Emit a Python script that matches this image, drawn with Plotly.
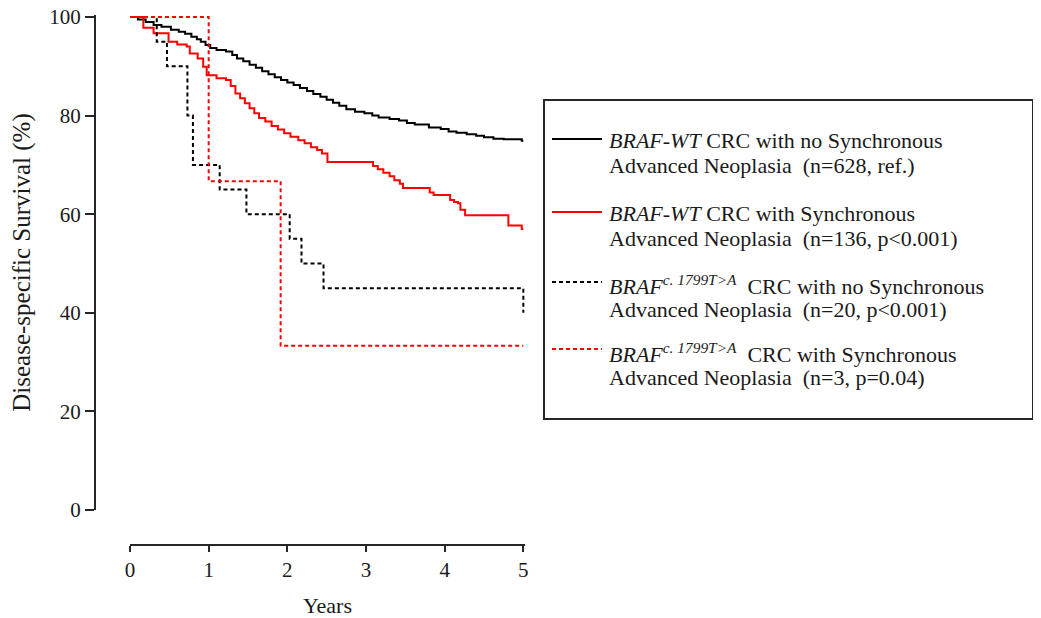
import plotly.graph_objects as go

# ---------------- data ----------------
year_ticks = [0, 1, 2, 3, 4, 5]
surv_ticks = [0, 20, 40, 60, 80, 100]

# BRAF-WT, no synchronous advanced neoplasia (n=628)
wt_no_t = [0, 0.10, 0.20, 0.30, 0.40, 0.52, 0.62, 0.70, 0.78, 0.85, 0.90, 0.96,
           1.02, 1.10, 1.22, 1.30, 1.36, 1.44, 1.52, 1.60, 1.68, 1.76, 1.84, 1.92,
           2.00, 2.08, 2.16, 2.25, 2.33, 2.42, 2.50, 2.58, 2.66, 2.75, 2.86, 2.98,
           3.08, 3.16, 3.30, 3.42, 3.52, 3.62, 3.80, 3.95, 4.05, 4.15, 4.28, 4.40,
           4.50, 4.62, 4.75, 4.98, 5.00]
wt_no_s = [100, 99.5, 99.0, 98.4, 98.0, 97.4, 97.0, 96.6, 96.0, 95.5, 95.0, 94.3,
           93.7, 93.3, 93.0, 92.3, 91.6, 91.0, 90.3, 89.7, 89.0, 88.4, 87.8, 87.2,
           86.7, 86.2, 85.6, 85.0, 84.4, 83.8, 83.2, 82.6, 82.0, 81.3, 80.8, 80.5,
           80.0, 79.6, 79.3, 79.0, 78.5, 78.2, 77.6, 77.3, 76.8, 76.5, 76.2, 75.9,
           75.6, 75.3, 75.2, 74.9, 74.9]

# BRAF-WT, with synchronous advanced neoplasia (n=136)
wt_syn_t = [0, 0.17, 0.30, 0.49, 0.60, 0.72, 0.76, 0.86, 0.93, 0.975, 1.10, 1.22,
            1.28, 1.34, 1.40, 1.46, 1.52, 1.58, 1.64, 1.72, 1.80, 1.88, 1.96, 2.04,
            2.14, 2.22, 2.30, 2.38, 2.44, 2.51, 3.09, 3.15, 3.22, 3.30, 3.36, 3.43,
            3.47, 3.81, 3.86, 4.07, 4.12, 4.17, 4.20, 4.26, 4.81, 4.98, 5.00]
wt_syn_s = [100, 97.8, 96.7, 95.0, 94.4, 94.0, 92.6, 91.6, 89.9, 88.2, 87.6, 87.2,
            86.0, 84.5, 83.5, 82.5, 81.5, 80.5, 79.5, 78.8, 77.9, 77.2, 76.4, 75.7,
            75.0, 74.4, 73.6, 73.0, 72.3, 70.6, 69.8, 69.1, 68.4, 67.7, 66.9, 66.2,
            65.3, 64.4, 63.9, 62.9, 62.5, 62.2, 60.9, 59.8, 57.7, 57.0, 57.0]

# BRAF c.1799T>A, no synchronous advanced neoplasia (n=20)
mut_no_t = [0, 0.34, 0.47, 0.73, 0.80, 1.14, 1.48, 2.03, 2.18, 2.46, 5.00]
mut_no_s = [100, 95, 90, 80, 70, 65, 60, 55, 50, 45, 40]

# BRAF c.1799T>A, with synchronous advanced neoplasia (n=3)
mut_syn_t = [0, 1.00, 1.915, 5.00]
mut_syn_s = [100, 66.7, 33.3, 33.3]

SUP = "<sup><i>c. 1799T&gt;A</i></sup>"
legend_line1 = [
    "<i>BRAF-WT</i> CRC with no Synchronous",
    "<i>BRAF-WT</i> CRC with Synchronous",
    "<i>BRAF</i>" + SUP + "\u00a0 CRC with no Synchronous",
    "<i>BRAF</i>" + SUP + "\u00a0 CRC with Synchronous",
]
legend_line2 = [
    "Advanced Neoplasia\u00a0 (n=628, ref.)",
    "Advanced Neoplasia\u00a0 (n=136, p&lt;0.001)",
    "Advanced Neoplasia\u00a0 (n=20, p&lt;0.001)",
    "Advanced Neoplasia\u00a0 (n=3, p=0.04)",
]

# ---------------- figure ----------------
OFF = 8                      # page body margin of the html page
FW, FH = 1041 - OFF, 618 - OFF
ML, MR, MT, MB = 80, 2, 2, 40
PW, PH = FW - ML - MR, FH - MT - MB
FONT = "Liberation Serif"


def px_x(px):
    return (px - OFF - ML) / PW


def px_y(py):
    return (FH - MB - (py - OFF)) / PH


series = [
    (wt_no_t, wt_no_s, "#000000", "solid"),
    (wt_syn_t, wt_syn_s, "#ff0000", "solid"),
    (mut_no_t, mut_no_s, "#000000", "4px,3px"),
    (mut_syn_t, mut_syn_s, "#ff0000", "4px,3px"),
]

fig = go.Figure()
for t, s, col, dash in series:
    fig.add_trace(go.Scatter(
        x=t, y=s, mode="lines",
        line=dict(color=col, width=2, dash=dash, shape="hv"),
        showlegend=False, hoverinfo="skip",
    ))

axis_common = dict(
    showline=True, linecolor="#262626", linewidth=2,
    ticks="outside", tickwidth=2, tickcolor="#262626",
    showgrid=False, zeroline=False, automargin=False,
    ticklabeloverflow="allow",
    tickfont=dict(family=FONT, size=21, color="#1a1a1a"),
)

fig.update_layout(
    width=FW, height=FH,
    margin=dict(l=ML, r=MR, t=MT, b=MB),
    paper_bgcolor="white", plot_bgcolor="white",
    font=dict(family=FONT, size=21, color="#1a1a1a"),
    xaxis=dict(
        **axis_common,
        domain=[px_x(130), px_x(524.9)],
        range=[0, 5.02],
        anchor="free", position=px_y(545),
        tickvals=year_ticks, ticktext=[str(v) for v in year_ticks],
        ticklen=6,
        title=dict(text="Years", font=dict(family=FONT, size=22), standoff=15),
    ),
    yaxis=dict(
        **axis_common,
        domain=[px_y(510), px_y(15.03)],
        range=[0, 100.4],
        anchor="free", position=px_x(95),
        tickvals=surv_ticks, ticktext=[str(v) for v in surv_ticks],
        ticklen=9,
        title=dict(text="Disease-specific Survival (%)",
                   font=dict(family=FONT, size=25), standoff=11),
    ),
)

# legend box
shapes = [dict(type="rect", xref="paper", yref="paper",
               x0=px_x(544), x1=px_x(1033), y0=px_y(100), y1=px_y(419),
               line=dict(color="#262626", width=2), fillcolor="rgba(0,0,0,0)")]
annotations = []
sample_y = [139, 212, 282, 349]
text_y1 = [141, 214, 285, 353]
text_y2 = [165, 238, 309, 377]
for i, (_, _, col, dash) in enumerate(series):
    shapes.append(dict(type="line", xref="paper", yref="paper",
                       x0=px_x(552), x1=px_x(602),
                       y0=px_y(sample_y[i]), y1=px_y(sample_y[i]),
                       line=dict(color=col, width=2, dash=dash)))
    annotations.append(dict(xref="paper", yref="paper", x=px_x(607), y=px_y(text_y1[i]),
                            xanchor="left", yanchor="middle", showarrow=False,
                            text=legend_line1[i], font=dict(family=FONT, size=22)))
    annotations.append(dict(xref="paper", yref="paper", x=px_x(607), y=px_y(text_y2[i]),
                            xanchor="left", yanchor="middle", showarrow=False,
                            text=legend_line2[i], font=dict(family=FONT, size=22)))

fig.update_layout(shapes=shapes, annotations=annotations)
fig.write_html("out.html")
